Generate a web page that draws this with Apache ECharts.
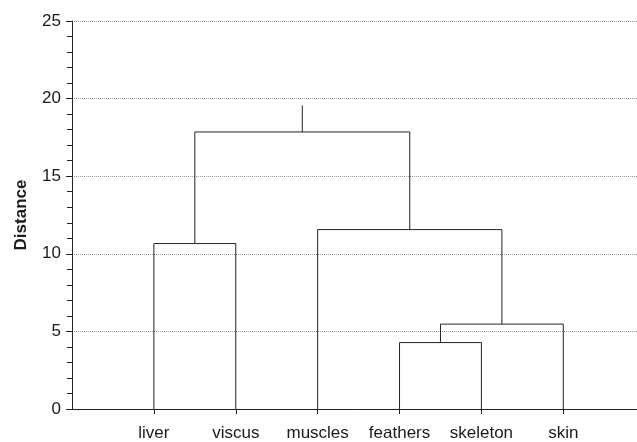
<!DOCTYPE html>
<html>
<head>
<meta charset="utf-8">
<script src="https://cdn.jsdelivr.net/npm/echarts@6/dist/echarts.min.js"></script>
<style>html,body{margin:0;padding:0;background:#fff}#c{width:637px;height:442px}</style>
</head>
<body>
<div id="c"></div>
<script>
// Leaves (in plotted order) and linkage: [childA, childB, height]; index < 6 = leaf, >= 6 = earlier merge
const leaves = ['liver', 'viscus', 'muscles', 'feathers', 'skeleton', 'skin'];
const merges = [
  [0, 1, 10.66],
  [3, 4, 4.28],
  [7, 5, 5.47],
  [2, 8, 11.56],
  [6, 9, 17.85]
];
const rootTop = 19.55;
const yTicks = [0, 5, 10, 15, 20, 25];

const nodes = leaves.map((n, i) => ({ x: i + 1, h: 0 }));
const series = [];
const lineStyle = { color: '#222', width: 1 };
merges.forEach(m => {
  const a = nodes[m[0]], b = nodes[m[1]], H = m[2];
  series.push({
    type: 'line', data: [[a.x, a.h], [a.x, H], [b.x, H], [b.x, b.h]],
    symbol: 'none', lineStyle, silent: true, animation: false
  });
  nodes.push({ x: (a.x + b.x) / 2, h: H });
});
const root = nodes[nodes.length - 1];
series.push({
  type: 'line', data: [[root.x, root.h], [root.x, rootTop]],
  symbol: 'none', lineStyle, silent: true, animation: false
});

const chart = echarts.init(document.getElementById('c'));
const font = 'Liberation Sans, Arial, sans-serif';
chart.setOption({
  animation: false,
  grid: { left: 72, right: 0, top: 21, bottom: 29, containLabel: false },
  xAxis: {
    type: 'value', min: 0, max: 6.9, interval: 1,
    splitLine: { show: false },
    axisLine: { show: true, onZero: false, lineStyle: { color: '#222', width: 1 } },
    axisTick: { show: true, length: 5, customValues: leaves.map((n, i) => i + 1), lineStyle: { color: '#222' } },
    axisLabel: {
      customValues: leaves.map((n, i) => i + 1),
      formatter: v => leaves[Math.round(v) - 1] || '',
      color: '#1a1a1a', fontSize: 17, fontFamily: font, margin: 16
    }
  },
  yAxis: {
    type: 'value', min: 0, max: yTicks[yTicks.length - 1], interval: 5,
    name: 'Distance', nameLocation: 'middle', nameGap: 42,
    nameTextStyle: { color: '#1a1a1a', fontSize: 17, fontWeight: 'bold', fontFamily: font },
    axisLine: { show: true, lineStyle: { color: '#222', width: 1 } },
    axisTick: { show: true, length: 6, lineStyle: { color: '#222' } },
    minorTick: { show: true, splitNumber: 5, length: 5, lineStyle: { color: '#222' } },
    splitLine: { show: true, lineStyle: { color: '#999', type: [1, 1], width: 1 } },
    axisLabel: { color: '#1a1a1a', fontSize: 17, fontFamily: font, margin: 11 }
  },
  series
});
</script>
</body>
</html>
